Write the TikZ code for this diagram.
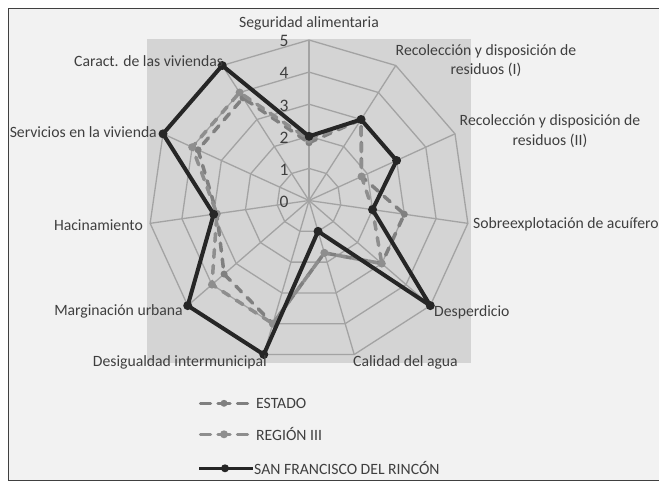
\documentclass[tikz,border=0pt]{standalone}
\usepackage{fontspec}
\setmainfont{Carlito}
\definecolor{outerc}{HTML}{F2F2F2}
\definecolor{plotc}{HTML}{D4D4D4}
\definecolor{gridc}{HTML}{A3A3A3}
\definecolor{framec}{HTML}{404040}
\definecolor{txtc}{HTML}{3F3F3F}
\definecolor{estc}{HTML}{808080}
\definecolor{regc}{HTML}{8E8E8E}
\definecolor{sfc}{HTML}{262626}
\tikzset{
  gridline/.style={gridc, line width=1.3pt},
  estline/.style={estc, line width=3.5pt, line cap=round, line join=round, dash pattern=on 8pt off 8pt},
  regline/.style={regc, line width=3.5pt, line cap=round, line join=round, dash pattern=on 8pt off 8pt},
  sfline/.style={sfc, line width=4pt, line join=round},
  estmark/.style={circle, fill=estc, inner sep=0pt, minimum size=7pt},
  regmark/.style={circle, fill=regc, inner sep=0pt, minimum size=8pt},
  sfmark/.style={circle, fill=sfc, inner sep=0pt, minimum size=9pt},
  lbl/.style={text=txtc, inner sep=0pt, align=center},
  tick/.style={text=txtc, inner sep=0pt, font=\fontsize{17.5}{19}\selectfont},
  legdash/.style={line width=3.5pt, line cap=round},
}
\begin{document}
\begin{tikzpicture}[x=1pt, y=1pt, font=\fontsize{15.7}{19.5}\selectfont]
\useasboundingbox (0,0) rectangle (659,-483);
\clip (0,0) rectangle (659,-483);
\fill[white] (0,0) rectangle (659,-483);
\draw[framec, fill=outerc, line width=1pt] (8.5,-8.5) rectangle (680,-480);
\fill[plotc] (147,-38.5) rectangle (471,-362.5);
\begin{scope}[shift={(309,-200.5)}]
  % grid rings
  \foreach \r in {1,...,5} {
    \draw[gridline] (90:\r*32.1) \foreach \k in {1,...,10} { -- ({90-\k*360/11}:\r*32.1) } -- cycle;
  }
  % spokes
  \coordinate (O) at (0,0);
  \foreach \k in {0,...,10} {
    \coordinate (ax\k) at ({90-\k*360/11}:160.5);
    \draw[gridline] (O) -- (ax\k);
  }
  % data points
  \foreach \v [count=\k from 0] in {1.8,3,1.8,3,3,1.7,4,3.5,2.9,3.8,3.8}
    \coordinate (e\k) at ({90-\k*360/11}:{\v*32.1});
  \foreach \v [count=\k from 0] in {1.9,3,1.8,2,3,1.7,4,4,2.9,4,4}
    \coordinate (g\k) at ({90-\k*360/11}:{\v*32.1});
  \foreach \v [count=\k from 0] in {2,3,3,2,5,1,5,5,3,5,5}
    \coordinate (s\k) at ({90-\k*360/11}:{\v*32.1});
\end{scope}
% tick labels
\foreach \i in {0,...,5}
  \node[tick] (t\i) at (284,{-201.7+32.1*\i}) {\i};
% series
\draw[estline] (e0) \foreach \k in {1,...,10} { -- (e\k) } -- cycle;
\foreach \k in {0,...,10} \node[estmark] (em\k) at (e\k) {};
\draw[regline] (g0) \foreach \k in {1,...,10} { -- (g\k) } -- cycle;
\foreach \k in {0,...,10} \node[regmark] (gm\k) at (g\k) {};
\draw[sfline] (s0) \foreach \k in {1,...,10} { -- (s\k) } -- cycle;
\foreach \k in {0,...,10} \node[sfmark] (sm\k) at (s\k) {};
% axis labels
\node[lbl] (l0) at (309,-23) {Seguridad alimentaria};
\node[lbl] (l1) at (486,-60.5) {Recolección y disposición de\\residuos (I)};
\node[lbl] (l2) at (550,-131) {Recolección y disposición de\\residuos (II)};
\node[lbl, anchor=west] (l3) at (473,-224) {Sobreexplotación de acuíferos};
\node[lbl, anchor=west] (l4) at (434,-312) {Desperdicio};
\node[lbl] (l5) at (405.5,-362.7) {Calidad del agua};
\node[lbl, anchor=east] (l6) at (267,-362.7) {Desigualdad intermunicipal};
\node[lbl, anchor=east] (l7) at (183,-311.7) {Marginación urbana};
\node[lbl, anchor=east] (l8) at (143,-225) {Hacinamiento};
\node[lbl, anchor=east] (l9) at (157,-131.7) {Servicios en la vivienda};
\node[lbl, anchor=west] (l10) at (74,-60.7) {Caract. de las viviendas};
% legend
\coordinate (la1) at (200.5,-403.3); \coordinate (lb1) at (210.5,-403.3);
\coordinate (lc1) at (218,-403.3);   \coordinate (ld1) at (230,-403.3);
\coordinate (le1) at (237.5,-403.3); \coordinate (lf1) at (247.5,-403.3);
\draw[legdash, estc] (la1) -- (lb1) (lc1) -- (ld1) (le1) -- (lf1);
\node[estmark] (lm1) at (224,-403.3) {};
\coordinate (la2) at (200.5,-434.3); \coordinate (lb2) at (210.5,-434.3);
\coordinate (lc2) at (218,-434.3);   \coordinate (ld2) at (230,-434.3);
\coordinate (le2) at (237.5,-434.3); \coordinate (lf2) at (247.5,-434.3);
\draw[legdash, regc] (la2) -- (lb2) (lc2) -- (ld2) (le2) -- (lf2);
\node[regmark] (lm2) at (224,-434.3) {};
\coordinate (la3) at (199,-468.3); \coordinate (lb3) at (253,-468.3);
\draw[sfline, line width=3.5pt] (la3) -- (lb3);
\node[sfmark, minimum size=8pt] (lm3) at (225,-468.3) {};
\node[lbl, anchor=west] (lt1) at (256,-403.3) {ESTADO};
\node[lbl, anchor=west] (lt2) at (256,-434.3) {REGIÓN III};
\node[lbl, anchor=west] (lt3) at (254,-468.3) {SAN FRANCISCO DEL RINCÓN};
\end{tikzpicture}
\end{document}
